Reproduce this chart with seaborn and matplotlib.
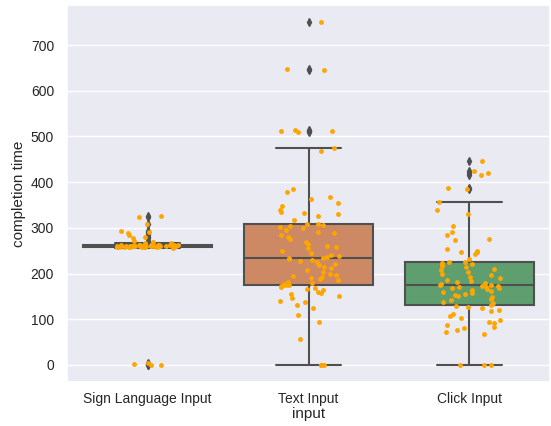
import numpy as np
import pandas as pd
import matplotlib
matplotlib.use("Agg")
import matplotlib.pyplot as plt
import seaborn as sns

# tiempos de finalización por tipo de entrada
categorias = ["Sign Language Input", "Text Input", "Click Input"]

sign_language = [0, 1, 3, 4,
                 257, 258, 258, 258, 259, 259, 259, 259, 259, 260, 260, 260, 260, 260,
                 260, 260, 260, 260, 260, 261, 261, 261, 261, 261, 261, 261, 262, 262,
                 262, 262, 262, 262, 262, 263, 263, 258, 259, 260, 261, 260,
                 266, 268, 270, 272, 278, 280, 285, 289, 291, 293, 308, 323, 325]

text_input = [0, 0, 0, 57, 95, 110, 124, 131, 138, 140, 147, 150, 155, 157, 160,
              164, 166, 168, 170, 172, 174, 175, 176, 178, 180, 182, 185, 188, 190,
              193, 195, 197, 200, 204, 208, 212, 215, 218, 222, 225, 227, 230, 232,
              234, 235, 236, 238, 241, 245, 250, 255, 258, 260, 265, 270, 275, 280,
              285, 289, 292, 295, 300, 303, 305, 306, 308, 309, 318, 325, 330, 332,
              334, 339, 348, 355, 364, 367, 378, 385, 468, 475, 510, 512, 513, 515,
              645, 647, 750]

click_input = [0, 0, 0, 68, 72, 77, 80, 84, 88, 92, 95, 98, 102, 108, 112, 118, 120,
               124, 127, 130, 132, 135, 138, 142, 145, 148, 150, 153, 155, 158, 160,
               162, 164, 166, 168, 169, 170, 171, 172, 173, 174, 176, 178, 180, 182,
               184, 186, 190, 193, 196, 200, 203, 207, 210, 214, 217, 219, 221, 223,
               225, 226, 232, 242, 247, 247, 249, 254, 274, 276, 284, 291, 304, 330,
               339, 357, 385, 387, 415, 420, 424, 446]

df = pd.DataFrame({
    "input": [categorias[0]] * len(sign_language) + [categorias[1]] * len(text_input)
             + [categorias[2]] * len(click_input),
    "completion time": sign_language + text_input + click_input,
})

sns.set_theme(style="darkgrid")
plt.rcParams["font.family"] = ["Liberation Sans", "DejaVu Sans"]

fig = plt.figure(figsize=(5.51, 4.26), dpi=100)
ax = fig.add_axes([0.122, 0.103, 0.876, 0.885])

gris = "#505050"
sns.boxplot(data=df, x="input", y="completion time", order=categorias,
            hue="input", palette="deep", saturation=0.75, legend=False,
            linecolor=gris, linewidth=1.5, width=0.8, ax=ax,
            flierprops=dict(marker="d", markerfacecolor=gris, markeredgecolor=gris,
                            markersize=4))
np.random.seed(3)
sns.stripplot(data=df, x="input", y="completion time", order=categorias,
              color="orange", size=3.5, jitter=0.2, ax=ax, zorder=3)

ax.set_xlabel("input", fontsize=11, labelpad=1)
ax.set_ylabel("completion time", fontsize=11, labelpad=3)
ax.tick_params(labelsize=10)
ax.tick_params(axis="x", pad=1)
ax.set_yticks([0, 100, 200, 300, 400, 500, 600, 700])

fig.savefig("out.png", dpi=100)
